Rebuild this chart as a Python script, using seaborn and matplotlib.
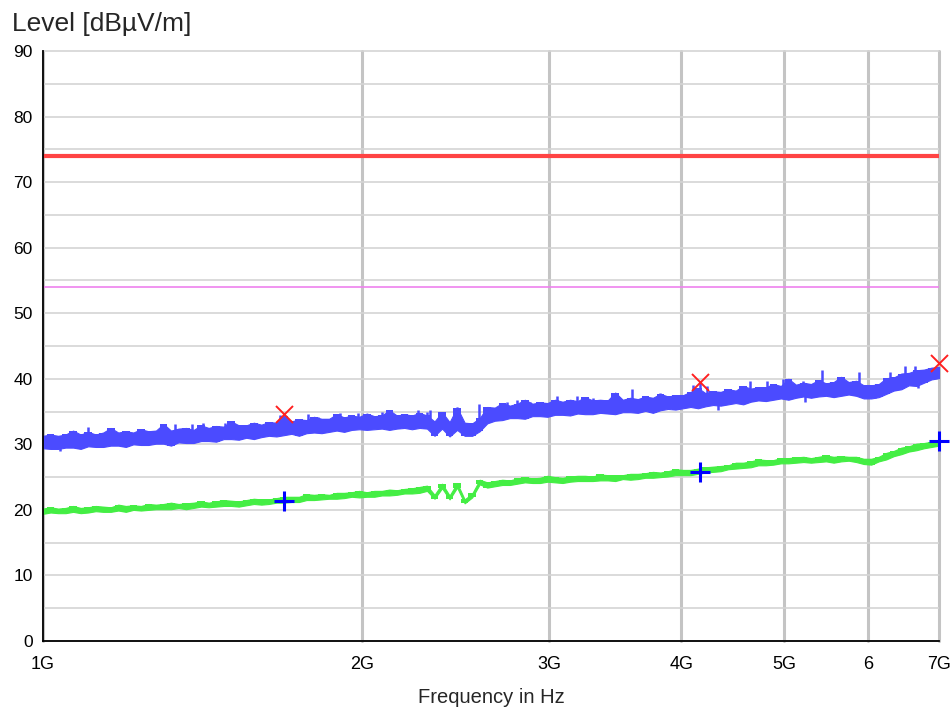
import numpy as np
import matplotlib
matplotlib.use("Agg")
import matplotlib.pyplot as plt
import seaborn as sns

# limit lines (dBµV/m)
limit_freq = [1e9, 7e9]
limit_peak = [74, 74]
limit_avg = [54, 54]

# peak trace envelope (blue), 120 log-spaced points 1G..7G
blue_hi = [31.3, 31.5, 31.3, 31.5, 32.1, 31.5, 31.9, 31.5, 31.8, 32.5,
           31.8, 32.0, 31.8, 32.3, 32.0, 32.1, 33.1, 32.1, 32.4, 32.5,
           32.2, 32.9, 32.5, 32.8, 32.7, 33.5, 32.9, 32.9, 33.3, 33.0,
           33.4, 33.3, 34.3, 33.5, 33.8, 33.7, 34.2, 33.9, 33.9, 34.6,
           34.1, 34.4, 34.2, 34.7, 34.3, 34.4, 35.2, 34.4, 34.6, 34.4,
           34.8, 34.4, 33.5, 34.9, 33.4, 35.6, 33.3, 33.2, 34.0, 35.7,
           35.6, 36.3, 35.9, 36.2, 36.8, 36.2, 36.4, 36.3, 36.8, 36.5,
           36.8, 36.6, 37.2, 36.7, 36.8, 36.7, 37.9, 36.8, 37.1, 36.9,
           37.3, 37.1, 37.7, 37.3, 37.5, 37.5, 38.0, 38.6, 37.8, 38.1,
           38.0, 38.4, 38.2, 38.9, 38.5, 38.7, 38.7, 39.2, 38.9, 40.0,
           39.1, 39.4, 39.2, 39.8, 39.3, 39.5, 40.3, 39.5, 39.7, 39.0,
           39.0, 39.2, 40.1, 40.2, 40.8, 40.9, 41.3, 41.4, 41.7, 41.8]
blue_lo = [29.4, 29.3, 29.3, 29.5, 29.5, 29.3, 29.7, 29.6, 29.6, 29.8,
           29.8, 29.6, 30.0, 29.9, 29.9, 30.1, 30.1, 29.8, 30.3, 30.2,
           30.2, 30.5, 30.5, 30.4, 30.8, 30.8, 30.7, 31.0, 30.8, 31.1,
           31.3, 31.2, 31.4, 31.6, 31.3, 31.7, 31.8, 31.7, 31.9, 32.1,
           31.9, 32.2, 32.3, 32.2, 32.3, 32.4, 32.2, 32.4, 32.5, 32.3,
           32.5, 32.4, 31.3, 32.4, 31.2, 32.2, 31.3, 31.3, 32.0, 33.2,
           33.6, 33.7, 34.0, 34.0, 33.9, 34.3, 34.3, 34.2, 34.5, 34.5,
           34.4, 34.7, 34.6, 34.6, 34.8, 34.7, 34.6, 34.9, 34.9, 34.8,
           35.1, 34.8, 35.2, 35.4, 35.3, 35.5, 35.7, 35.5, 35.8, 36.0,
           35.9, 36.1, 36.3, 36.1, 36.5, 36.7, 36.6, 36.8, 37.0, 36.8,
           37.1, 37.3, 37.1, 37.3, 37.4, 37.2, 37.4, 37.6, 37.4, 37.0,
           37.0, 37.2, 37.7, 38.2, 38.4, 39.0, 38.9, 39.4, 39.9, 40.1]

# narrow spikes on the peak trace (GHz, dBµV/m)
spike_up_ghz = [1.103, 1.161, 1.235, 1.332, 1.381, 1.416, 1.485, 1.517, 1.673,
                1.779, 1.818, 1.906, 1.983, 2.087, 2.140, 2.259, 2.301, 2.317,
                2.385, 2.456, 2.579, 2.738, 2.798, 2.880, 3.052, 3.187, 3.304,
                3.439, 3.591, 3.819, 4.106, 4.166, 4.227, 4.644, 4.815, 4.992,
                5.213, 5.433, 5.884, 6.294, 6.502, 6.645]
spike_up_top = [32.6, 31.9, 32.3, 33.1, 33.1, 33.2, 33.3, 32.7, 34.5,
                34.6, 34.2, 34.8, 34.8, 35.0, 34.7, 35.3, 35.0, 35.2,
                35.0, 35.7, 36.1, 36.5, 36.8, 36.5, 37.4, 37.4, 37.0,
                37.3, 38.5, 37.9, 39.0, 39.3, 38.9, 39.6, 39.7, 39.9,
                39.7, 41.3, 41.0, 41.1, 41.9, 41.9]
spike_dn_ghz = [1.038, 1.524, 4.332, 5.233, 6.091, 6.687]
spike_dn_bot = [29.0, 30.9, 35.2, 36.4, 37.0, 38.6]

# average trace envelope (green)
green_hi = [20.2, 20.4, 20.2, 20.3, 20.6, 20.3, 20.4, 20.6, 20.5, 20.4,
            20.8, 20.6, 20.7, 20.6, 20.9, 20.8, 20.9, 21.1, 20.9, 21.0,
            21.1, 21.3, 21.1, 21.3, 21.5, 21.4, 21.3, 21.5, 21.7, 21.6,
            21.6, 21.8, 22.0, 22.0, 22.0, 22.4, 22.3, 22.4, 22.3, 22.6,
            22.6, 22.7, 22.9, 22.7, 22.9, 22.9, 23.1, 23.0, 23.2, 23.3,
            23.5, 23.7, 22.3, 24.0, 22.2, 24.1, 21.6, 22.5, 24.6, 24.2,
            24.4, 24.6, 24.5, 24.8, 25.0, 24.8, 24.9, 25.2, 25.0, 24.9,
            25.1, 25.2, 25.2, 25.1, 25.4, 25.3, 25.3, 25.3, 25.5, 25.5,
            25.6, 25.8, 25.7, 25.9, 26.2, 26.1, 26.1, 26.3, 26.5, 26.6,
            26.7, 26.8, 27.2, 27.2, 27.4, 27.7, 27.6, 27.6, 27.9, 27.9,
            28.0, 28.1, 27.9, 28.1, 28.3, 28.1, 28.2, 28.1, 28.1, 27.8,
            27.8, 28.1, 28.7, 29.0, 29.5, 29.7, 30.1, 30.2, 30.4, 30.5]
green_lo = [19.4, 19.6, 19.5, 19.5, 19.7, 19.5, 19.6, 19.8, 19.7, 19.7,
            19.9, 19.7, 20.0, 19.9, 20.0, 20.1, 20.1, 20.1, 20.3, 20.1,
            20.3, 20.5, 20.4, 20.5, 20.6, 20.6, 20.5, 20.7, 20.9, 20.8,
            20.9, 21.1, 21.1, 21.2, 21.2, 21.5, 21.5, 21.6, 21.7, 21.7,
            21.8, 22.0, 21.9, 22.0, 22.0, 22.2, 22.2, 22.3, 22.5, 22.5,
            22.6, 22.9, 21.7, 23.3, 21.6, 23.4, 21.0, 21.9, 23.9, 23.4,
            23.6, 23.8, 23.8, 24.0, 24.2, 24.1, 24.1, 24.3, 24.2, 24.1,
            24.3, 24.4, 24.4, 24.4, 24.5, 24.5, 24.4, 24.7, 24.6, 24.7,
            24.9, 24.9, 25.0, 25.1, 25.3, 25.3, 25.3, 25.5, 25.7, 25.8,
            25.9, 26.2, 26.3, 26.4, 26.5, 26.8, 26.8, 26.9, 27.1, 27.1,
            27.2, 27.3, 27.2, 27.3, 27.4, 27.2, 27.4, 27.5, 27.3, 27.0,
            26.9, 27.4, 27.7, 28.2, 28.5, 28.9, 29.1, 29.4, 29.6, 29.8]

freq = np.geomspace(1e9, 7e9, len(blue_hi))

# final measurement points
peak_freq = [1.688e9, 4.17e9, 7.0e9]
peak_level = [34.6, 39.5, 42.4]
avg_freq = [1.688e9, 4.17e9, 7.0e9]
avg_level = [21.4, 25.8, 30.5]

xtick_pos = [1e9, 2e9, 3e9, 4e9, 5e9, 6e9, 7e9]
xtick_labels = ["1G", "2G", "3G", "4G", "5G", "6", "7G"]

BLUE = "#4b4bff"
GREEN = "#44ee44"

sns.set_style("white")
plt.rcParams['font.family'] = ['Liberation Sans', 'DejaVu Sans']
narrow = ['Liberation Sans Narrow', 'Liberation Sans']

fig = plt.figure(figsize=(9.51, 7.08), dpi=100)
ax = fig.add_axes([43 / 951, 1 - 641 / 708, 896 / 951, 590 / 708])

# traces: linear + stepped fill of the same envelope gives the ragged edge
for lo, hi, col in [(blue_lo, blue_hi, BLUE), (green_lo, green_hi, GREEN)]:
    ax.fill_between(freq, lo, hi, color=col, linewidth=0.8, edgecolor=col, zorder=3)
    ax.fill_between(freq, lo, hi, step="mid", color=col, linewidth=0, zorder=3)

# spikes start from the trace middle at that frequency
mid = (np.array(blue_lo) + np.array(blue_hi)) / 2
up_f = np.array(spike_up_ghz) * 1e9
dn_f = np.array(spike_dn_ghz) * 1e9
ax.vlines(up_f, np.interp(np.log(up_f), np.log(freq), mid), spike_up_top,
          color=BLUE, linewidth=1.8, zorder=3)
ax.vlines(dn_f, spike_dn_bot, np.interp(np.log(dn_f), np.log(freq), mid),
          color=BLUE, linewidth=1.8, zorder=3)

sns.lineplot(x=limit_freq, y=limit_peak, ax=ax, color="#ff4444", linewidth=3.0, zorder=4)
sns.lineplot(x=limit_freq, y=limit_avg, ax=ax, color="#ee82ee", linewidth=1.2, zorder=4)

sns.scatterplot(x=peak_freq, y=peak_level, ax=ax, marker="x", s=150,
                color="#ff2020", linewidth=1.4, zorder=6, clip_on=False)
sns.scatterplot(x=avg_freq, y=avg_level, ax=ax, marker="+", s=210,
                color="#0000ff", linewidth=2.2, zorder=6, clip_on=False)

ax.set_xscale("log")
ax.set_xlim(1e9, 7e9)
ax.set_ylim(0, 90)
ax.set_xticks(xtick_pos)
ax.set_xticklabels(xtick_labels)
ax.xaxis.set_minor_locator(matplotlib.ticker.NullLocator())
ax.set_yticks(range(0, 91, 10))
ax.set_yticks(range(5, 90, 10), minor=True)

ax.grid(axis="x", which="major", color="#c4c4c4", linewidth=2.2, zorder=0)
ax.grid(axis="y", which="both", color="#d4d4d4", linewidth=1.2, zorder=0)
ax.set_axisbelow(True)
for gl in ax.get_xgridlines() + ax.get_ygridlines():
    gl.set_clip_on(False)

for side in ["top", "right"]:
    ax.spines[side].set_visible(False)
for side in ["left", "bottom"]:
    ax.spines[side].set_color("black")
    ax.spines[side].set_linewidth(1.3)
    ax.spines[side].set_zorder(5)

ax.tick_params(axis="both", which="both", direction="inout", length=9,
               width=1.3, color="black")
ax.tick_params(axis="y", labelsize=12.5, pad=3, labelcolor="black")
ax.tick_params(axis="x", labelsize=13, pad=6, labelcolor="black")
for lab in ax.get_xticklabels():
    lab.set_family(narrow)

ax.set_xlabel("Frequency in Hz", fontsize=14.5, labelpad=11, family=narrow)
ax.set_ylabel("")

fig.text(12 / 951, 1 - 24 / 708, "Level [dBµV/m]", fontsize=19, va="center", ha="left")

fig.savefig("out.png", dpi=100)
